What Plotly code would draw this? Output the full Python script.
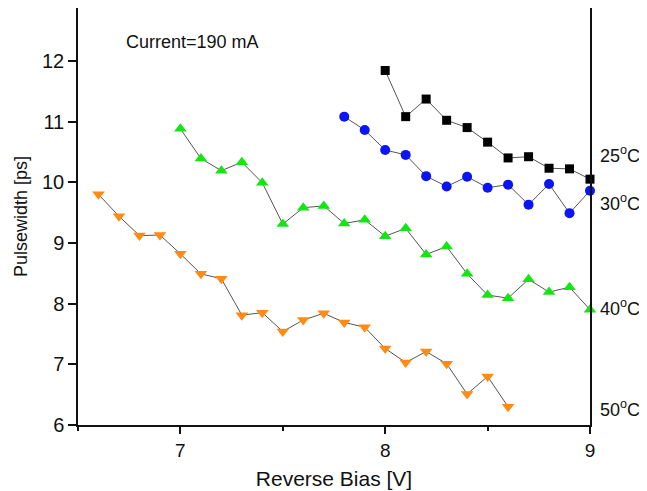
import plotly.graph_objects as go

# Reverse bias [V]
x_25 = [8.0, 8.1, 8.2, 8.3, 8.4, 8.5, 8.6, 8.7, 8.8, 8.9, 9.0]
y_25 = [11.84, 11.08, 11.37, 11.02, 10.90, 10.66, 10.40, 10.42, 10.23, 10.22, 10.05]

x_30 = [7.8, 7.9, 8.0, 8.1, 8.2, 8.3, 8.4, 8.5, 8.6, 8.7, 8.8, 8.9, 9.0]
y_30 = [11.08, 10.86, 10.53, 10.45, 10.10, 9.93, 10.09, 9.91, 9.96, 9.63, 9.97, 9.49, 9.86]

x_40 = [7.0, 7.1, 7.2, 7.3, 7.4, 7.5, 7.6, 7.7, 7.8, 7.9, 8.0,
        8.1, 8.2, 8.3, 8.4, 8.5, 8.6, 8.7, 8.8, 8.9, 9.0]
y_40 = [10.88, 10.39, 10.19, 10.33, 9.99, 9.31, 9.58, 9.61, 9.32, 9.38, 9.11,
        9.24, 8.81, 8.94, 8.49, 8.14, 8.09, 8.40, 8.19, 8.27, 7.90]

x_50 = [6.6, 6.7, 6.8, 6.9, 7.0, 7.1, 7.2, 7.3, 7.4, 7.5, 7.6,
        7.7, 7.8, 7.9, 8.0, 8.1, 8.2, 8.3, 8.4, 8.5, 8.6]
y_50 = [9.80, 9.44, 9.12, 9.13, 8.82, 8.49, 8.41, 7.81, 7.85, 7.54, 7.73,
        7.84, 7.69, 7.61, 7.26, 7.03, 7.21, 7.01, 6.51, 6.80, 6.30]

series_labels = ["25<sup>o</sup>C", "30<sup>o</sup>C", "40<sup>o</sup>C", "50<sup>o</sup>C"]
label_y = [10.45, 9.66, 7.94, 6.28]
x_ticks = [7, 8, 9]
y_ticks = [6, 7, 8, 9, 10, 11, 12]

FONT = "Liberation Sans, Arial, sans-serif"
INK = "#111111"
line_style = dict(color="#555555", width=1)

fig = go.Figure()
specs = [
    (x_25, y_25, "square", "#000000", 9),
    (x_30, y_30, "circle", "#0a14f5", 10),
    (x_40, y_40, "triangle-up", "#14e614", 11),
    (x_50, y_50, "triangle-down", "#ff8a14", 11),
]
for xs, ys, sym, col, sz in specs:
    fig.add_trace(go.Scatter(
        x=xs, y=ys, mode="lines+markers",
        line=line_style,
        marker=dict(symbol=sym, color=col, size=sz, line=dict(width=0)),
        cliponaxis=False, showlegend=False,
    ))

annotations = [dict(
    x=6.725, y=12.31, xref="x", yref="y", text="Current=190 mA",
    showarrow=False, xanchor="left", yanchor="middle",
    font=dict(family=FONT, size=18, color=INK),
)]
for lab, ly in zip(series_labels, label_y):
    annotations.append(dict(
        x=1.015, y=ly, xref="paper", yref="y", text=lab,
        showarrow=False, xanchor="left", yanchor="middle",
        font=dict(family=FONT, size=18, color=INK),
    ))

fig.update_layout(
    width=639, height=483,
    margin=dict(l=70, r=57, t=0, b=66, pad=0),
    paper_bgcolor="white", plot_bgcolor="white",
    font=dict(family=FONT, size=18, color=INK),
    annotations=annotations,
    xaxis=dict(
        range=[6.5, 9.0], tickvals=x_ticks, ticks="outside", ticklen=7,
        tickwidth=1.5, tickcolor=INK, automargin=False,
        minor=dict(dtick=0.5, tick0=6.5, ticks="outside", ticklen=4,
                   tickwidth=1.5, tickcolor=INK, showgrid=False),
        showline=True, linecolor=INK, linewidth=1.5, mirror=True,
        showgrid=False, zeroline=False,
        title=dict(text="Reverse Bias [V]", font=dict(size=21), standoff=12),
        tickfont=dict(size=19),
    ),
    yaxis=dict(
        range=[6.0, 12.87], tickvals=y_ticks, ticks="outside", ticklen=8,
        tickwidth=1.5, tickcolor=INK, automargin=False,
        showline=True, linecolor=INK, linewidth=1.5, mirror=True,
        showgrid=False, zeroline=False,
        title=dict(text="Pulsewidth [ps]", font=dict(size=18), standoff=10),
        tickfont=dict(size=20),
    ),
)

fig.write_html("out.html")
